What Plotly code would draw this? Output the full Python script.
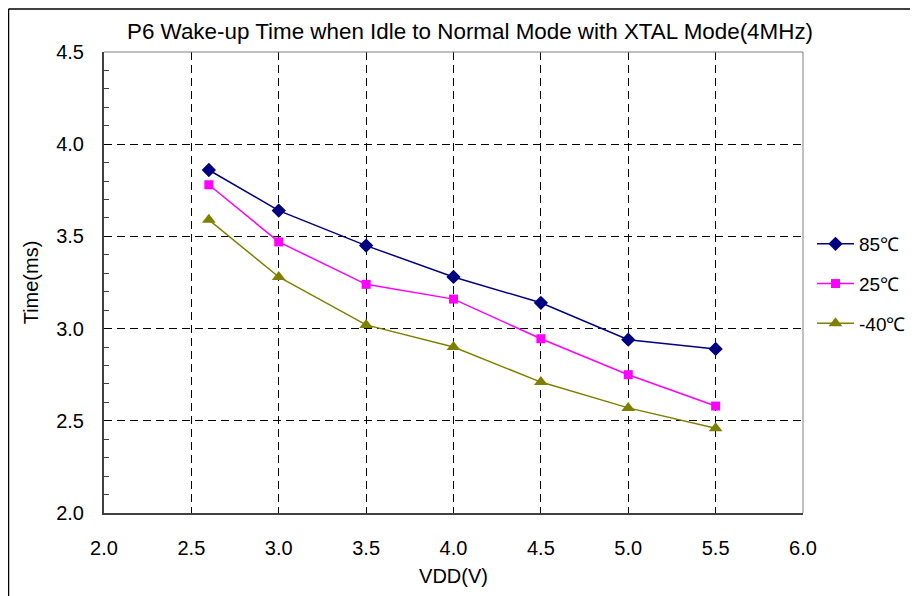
import plotly.graph_objects as go

vdd = [2.6, 3.0, 3.5, 4.0, 4.5, 5.0, 5.5]
t_85 = [3.86, 3.64, 3.45, 3.28, 3.14, 2.94, 2.89]
t_25 = [3.78, 3.47, 3.24, 3.16, 2.945, 2.75, 2.58]
t_m40 = [3.59, 3.28, 3.02, 2.90, 2.71, 2.57, 2.46]
series_names = ["85\u2103", "25\u2103", "-40\u2103"]
title_text = "P6 Wake-up Time when Idle to Normal Mode with XTAL Mode(4MHz)"

FONT = "Liberation Sans, Arial, sans-serif"
# page has an 8px body margin; figure sized so it fits the 918x596 window
OFF = 8
W, H = 918 - OFF, 596 - OFF
L, T = 104 - OFF, 52 - OFF
pw, ph = 699, 461
R, B = W - L - pw, H - T - ph

fig = go.Figure()
fig.add_trace(go.Scatter(x=vdd, y=t_85, name=series_names[0], mode="lines+markers",
                         legendgroup="a",
                         line=dict(color="#000080", width=1.5),
                         marker=dict(symbol="diamond", size=11, color="#000080")))
fig.add_trace(go.Scatter(x=vdd, y=t_25, name=series_names[1], mode="lines+markers",
                         legendgroup="b",
                         line=dict(color="#FF00FF", width=1.5),
                         marker=dict(symbol="square", size=9, color="#FF00FF")))
fig.add_trace(go.Scatter(x=vdd, y=t_m40, name=series_names[2], mode="lines+markers",
                         legendgroup="c",
                         line=dict(color="#808000", width=1.5),
                         marker=dict(symbol="triangle-up", size=12, color="#808000")))

def px2paper_x(px):
    return (px - OFF - L) / pw

def py2paper_y(py):
    return (H - B - (py - OFF)) / ph

shapes = [
    dict(type="line", xref="paper", yref="paper", x0=0, x1=1, y0=1, y1=1,
         line=dict(color="#808080", width=1)),
    dict(type="line", xref="paper", yref="paper", x0=1, x1=1, y0=0, y1=1,
         line=dict(color="#808080", width=1)),
    dict(type="line", xref="paper", yref="paper",
         x0=px2paper_x(8.5), x1=px2paper_x(8.5), y0=py2paper_y(600), y1=py2paper_y(9),
         line=dict(color="black", width=1.5)),
    dict(type="line", xref="paper", yref="paper",
         x0=px2paper_x(8.5), x1=px2paper_x(925), y0=py2paper_y(9), y1=py2paper_y(9),
         line=dict(color="black", width=1.5)),
]

fig.update_layout(
    width=W, height=H,
    margin=dict(l=L, r=R, t=T, b=B, autoexpand=False),
    paper_bgcolor="white", plot_bgcolor="white",
    font=dict(family=FONT, color="black", size=20),
    title=dict(text=title_text, x=(470 - OFF) / W, xanchor="center",
               y=1 - (31 - OFF) / H, yanchor="middle",
               font=dict(family=FONT, size=22.4, color="black")),
    showlegend=True,
    legend=dict(x=px2paper_x(812), xanchor="left", y=py2paper_y(225), yanchor="top",
                font=dict(family=FONT, size=19), tracegroupgap=12,
                itemwidth=37, bgcolor="rgba(0,0,0,0)"),
    shapes=shapes,
)

fig.update_xaxes(range=[2.0, 6.0], dtick=0.5, tickformat=".1f",
                 showgrid=True, gridcolor="black", gridwidth=1, griddash="8px,5px",
                 showline=True, linecolor="#404040", linewidth=2,
                 ticks="", ticklabelstandoff=16, zeroline=False,
                 title=dict(text="VDD(V)", standoff=11, font=dict(size=20)),
                 tickfont=dict(size=20))
fig.update_yaxes(range=[2.0, 4.5], dtick=0.5, tickformat=".1f",
                 showgrid=True, gridcolor="black", gridwidth=1, griddash="8px,5px",
                 showline=True, linecolor="#404040", linewidth=2,
                 ticks="", ticklabelstandoff=14, zeroline=False,
                 minor=dict(dtick=0.1, ticks="inside", ticklen=5, tickcolor="#404040", showgrid=False),
                 title=dict(text="Time(ms)", standoff=12, font=dict(size=20)),
                 tickfont=dict(size=20))

fig.write_html("out.html")
